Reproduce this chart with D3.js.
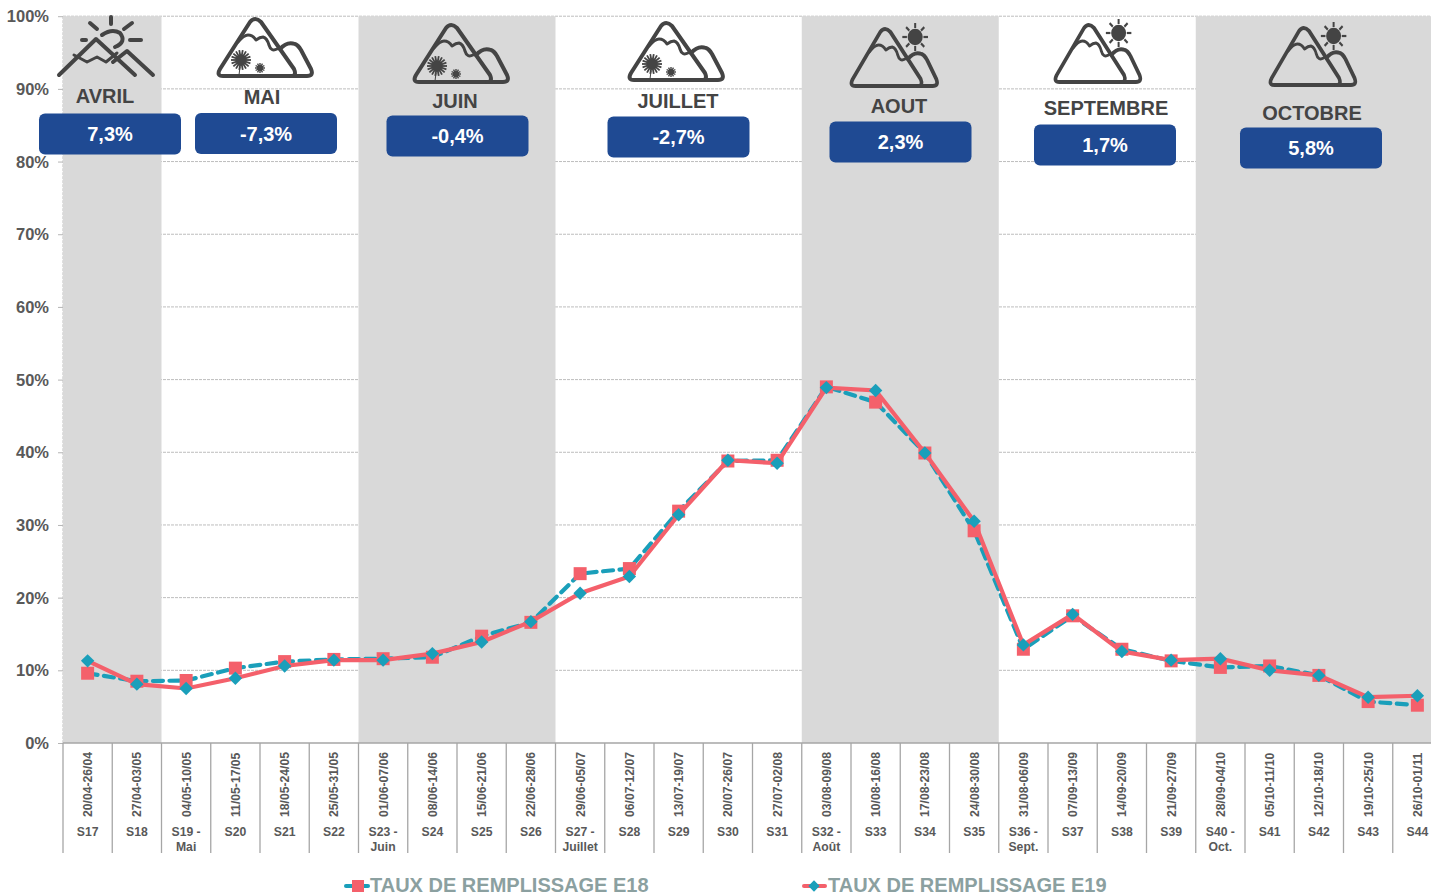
<!DOCTYPE html>
<html>
<head>
<meta charset="utf-8">
<script src="https://cdn.jsdelivr.net/npm/d3@7"></script>
<style>
    body { margin: 0; background: #fff; overflow: hidden; }
    text { font-family: "Liberation Sans", Arial, sans-serif; font-weight: bold; }
</style>
</head>
<body>
<div id="chart"></div>
<script>
const weeks = ["S17","S18","S19 -|Mai","S20","S21","S22","S23 -|Juin","S24","S25","S26","S27 -|Juillet","S28","S29","S30","S31","S32 -|Août","S33","S34","S35","S36 -|Sept.","S37","S38","S39","S40 -|Oct.","S41","S42","S43","S44"];
const dates = ["20/04-26/04","27/04-03/05","04/05-10/05","11/05-17/05","18/05-24/05","25/05-31/05","01/06-07/06","08/06-14/06","15/06-21/06","22/06-28/06","29/06-05/07","06/07-12/07","13/07-19/07","20/07-26/07","27/07-02/08","03/08-09/08","10/08-16/08","17/08-23/08","24/08-30/08","31/08-06/09","07/09-13/09","14/09-20/09","21/09-27/09","28/09-04/10","05/10-11/10","12/10-18/10","19/10-25/10","26/10-01/11"];
const e18 = [9.6,8.5,8.6,10.3,11.2,11.5,11.6,11.8,14.7,16.6,23.3,24.0,31.9,38.8,38.9,49.0,46.9,39.9,29.2,12.9,17.5,12.9,11.3,10.4,10.6,9.3,5.7,5.2];
const e19 = [11.3,8.1,7.5,8.9,10.6,11.4,11.4,12.3,13.9,16.7,20.6,22.9,31.4,38.9,38.5,48.9,48.5,39.9,30.5,13.5,17.7,12.6,11.4,11.6,10.0,9.3,6.3,6.5];
const months = ["AVRIL","MAI","JUIN","JUILLET","AOUT","SEPTEMBRE","OCTOBRE"];
const monthValues = ["7,3%","-7,3%","-0,4%","-2,7%","2,3%","1,7%","5,8%"];
// index of first and last week of each shaded month
const shaded = [[0,1],[6,9],[15,18],[23,27]];
const yTicks = [0,10,20,30,40,50,60,70,80,90,100];

// placement of the month blocks, they float above the plot at uneven heights
const labelX = [105,262,455,678,899,1106,1312];
const labelY = [103,104,108,108,113,115,120];
const boxX = [39,195,386.5,607.5,829.5,1034,1240];
const boxY = [113.5,113,115.5,116.5,121.5,124.5,127.5];
const iconX = [0,217,413,628,850,1054,1269];
const iconY = [0,17,23,21,27,23,26];
const iconScale = [1,1,1,1,0.918,0.91,0.91];
const iconKind = ["", "flowers","flowers","flowers","sun","sun","sun"];

const width = 1431, height = 895;
const margin = {left: 63, right: 1442, top: 16.2, bottom: 743};
const dark = "#444444", axisText = "#595959", axisGrey = "#a6a6a6";
const red = "#f4606b", teal = "#1a9fba";

const svg = d3.select("#chart").append("svg")
    .attr("width", width)
    .attr("height", height);

const x = d3.scaleBand().domain(weeks).range([margin.left, margin.right]);
const y = d3.scaleLinear().domain([0, 100]).range([margin.bottom, margin.top]);

// grid + y labels
const yAxis = svg.append("g")
    .attr("transform", `translate(${margin.left},0)`)
    .call(d3.axisLeft(y).tickValues(yTicks).tickFormat(d => d + "%").tickSize(5).tickPadding(9));
yAxis.select(".domain").remove();
yAxis.selectAll("line").attr("stroke", "#b5b5b5");
yAxis.selectAll("text").attr("font-size", 16.5).attr("fill", axisText).attr("dy", "0.34em");

svg.append("g").selectAll("line")
    .data(yTicks.slice(1))
    .enter().append("line")
    .attr("x1", margin.left).attr("x2", width)
    .attr("y1", d => y(d)).attr("y2", d => y(d))
    .attr("stroke", "#bdbdbd")
    .attr("stroke-dasharray", "3 1");

svg.append("line")
    .attr("x1", margin.left).attr("x2", margin.left)
    .attr("y1", margin.top).attr("y2", margin.bottom)
    .attr("stroke", "#bdbdbd")
    .attr("stroke-dasharray", "3 1");

// month shading
svg.append("g").selectAll("rect")
    .data(shaded)
    .enter().append("rect")
    .attr("x", d => x(weeks[d[0]]))
    .attr("y", margin.top)
    .attr("width", d => x(weeks[d[1]]) + x.bandwidth() - x(weeks[d[0]]))
    .attr("height", margin.bottom - margin.top)
    .attr("fill", "#d9d9d9");

// x axis, ticks sit on the band edges
const xAxis = svg.append("g");
xAxis.append("line")
    .attr("x1", margin.left).attr("x2", width)
    .attr("y1", margin.bottom).attr("y2", margin.bottom)
    .attr("stroke", axisGrey).attr("stroke-width", 1.5);
xAxis.selectAll(".tick-edge")
    .data(weeks)
    .enter().append("line")
    .attr("class", "tick-edge")
    .attr("x1", d => x(d)).attr("x2", d => x(d))
    .attr("y1", margin.bottom).attr("y2", 853)
    .attr("stroke", axisGrey).attr("stroke-width", 1.3);
xAxis.selectAll(".date-label")
    .data(dates)
    .enter().append("text")
    .attr("class", "date-label")
    .attr("transform", (d, i) => `translate(${x(weeks[i]) + x.bandwidth() / 2 + 4.5},817) rotate(-90)`)
    .attr("font-size", 12.2)
    .attr("fill", axisText)
    .text(d => d);
xAxis.selectAll(".week-label")
    .data(weeks)
    .enter().append("text")
    .attr("class", "week-label")
    .attr("text-anchor", "middle")
    .attr("font-size", 12.2)
    .attr("fill", axisText)
    .each(function(d) {
        let cx = x(d) + x.bandwidth() / 2;
        d.split("|").forEach((part, i) => {
            d3.select(this).append("tspan")
                .attr("x", cx)
                .attr("y", 836 + i * 15)
                .text(part);
        });
    });

// series
let line = d3.line()
    .x((d, i) => x(weeks[i]) + x.bandwidth() / 2)
    .y(d => y(d));

svg.append("path")
    .attr("d", line(e18))
    .attr("fill", "none")
    .attr("stroke", teal)
    .attr("stroke-width", 4.2)
    .attr("stroke-dasharray", "10 6.5")
    .attr("stroke-linecap", "round");

svg.append("g").selectAll("path")
    .data(e18)
    .enter().append("path")
    .attr("d", d3.symbol().type(d3.symbolSquare).size(169))
    .attr("transform", (d, i) => `translate(${x(weeks[i]) + x.bandwidth() / 2},${y(d)})`)
    .attr("fill", red);

svg.append("path")
    .attr("d", line(e19))
    .attr("fill", "none")
    .attr("stroke", red)
    .attr("stroke-width", 4.2);

svg.append("g").selectAll("path")
    .data(e19)
    .enter().append("path")
    .attr("d", d3.symbol().type(d3.symbolSquare).size(90))
    .attr("transform", (d, i) => `translate(${x(weeks[i]) + x.bandwidth() / 2},${y(d)}) rotate(45)`)
    .attr("fill", teal);

// month icons
function rays(g, cx, cy, r0, r1, n, w) {
    d3.range(n).forEach(i => {
        let a = i * 2 * Math.PI / n;
        g.append("line")
            .attr("x1", cx + r0 * Math.cos(a)).attr("y1", cy + r0 * Math.sin(a))
            .attr("x2", cx + r1 * Math.cos(a)).attr("y2", cy + r1 * Math.sin(a))
            .attr("stroke", dark).attr("stroke-width", w);
    });
}

function drawMountain(i) {
    let g = svg.append("g")
        .attr("transform", `translate(${iconX[i]},${iconY[i]}) scale(${iconScale[i]},1)`);
    let outline = ["M6 59 Q-1 59 3 52 L33 5 Q38 -1 44 5 L77 52 Q80 59 74 59 Z",
        "M63 32 Q70 24 78 27 Q81 28 84 33 L94 52 Q97 59 90 59 L74 59",
        "M21 25 Q27 18 31 18 Q36 18 39 23 Q43 20 46 20 Q50 21 52 28 Q54 35 60 32"];
    outline.forEach((d, k) => {
        g.append("path")
            .attr("d", d)
            .attr("fill", "none")
            .attr("stroke", dark)
            .attr("stroke-width", k == 2 ? 3 : 4)
            .attr("stroke-linecap", "round")
            .attr("stroke-linejoin", "round");
    });
    if (iconKind[i] == "flowers") {
        rays(g, 24, 43, 0, 10, 18, 1.8);
        g.append("circle").attr("cx", 24).attr("cy", 43).attr("r", 5.5).attr("fill", dark);
        g.append("line").attr("x1", 23).attr("y1", 50).attr("x2", 22).attr("y2", 58).attr("stroke", dark);
        rays(g, 43, 51, 0, 5, 12, 1.4);
        g.append("circle").attr("cx", 43).attr("cy", 51).attr("r", 3).attr("fill", dark);
    } else {
        rays(g, 71, 10, 9, 14, 8, 2.2);
        g.append("circle").attr("cx", 71).attr("cy", 10).attr("r", 8.2).attr("fill", dark);
    }
}
d3.range(1, 7).forEach(drawMountain);

// april has its own drawing (sun rising behind two peaks)
let april = ["M59 75 L96 39 L135 75", "M113 62 L127 51 L153 75",
    "M74 55 L87 62 L97 57 L106 62 L117 53",
    "M102 35 Q112 28 120 33 Q127 42 115 47",
    "M111 17 L111 24", "M90 23 L97 29", "M132 23 L124 29", "M82 40 L86 40", "M130 40 L141 40"];
svg.append("g").selectAll("path")
    .data(april)
    .enter().append("path")
    .attr("d", d => d)
    .attr("fill", "none")
    .attr("stroke", dark)
    .attr("stroke-width", (d, i) => i == 2 ? 3 : 4)
    .attr("stroke-linecap", "round")
    .attr("stroke-linejoin", "round");

// month names and variation boxes
svg.append("g").selectAll("text")
    .data(months)
    .enter().append("text")
    .attr("x", (d, i) => labelX[i])
    .attr("y", (d, i) => labelY[i])
    .attr("text-anchor", "middle")
    .attr("font-size", 20)
    .attr("fill", dark)
    .text(d => d);

svg.append("g").selectAll("rect")
    .data(monthValues)
    .enter().append("rect")
    .attr("x", (d, i) => boxX[i])
    .attr("y", (d, i) => boxY[i])
    .attr("width", 142)
    .attr("height", 41)
    .attr("rx", 6)
    .attr("fill", "#1f4a93");

svg.append("g").selectAll("text")
    .data(monthValues)
    .enter().append("text")
    .attr("x", (d, i) => boxX[i] + 71)
    .attr("y", (d, i) => boxY[i] + 27.5)
    .attr("text-anchor", "middle")
    .attr("font-size", 20)
    .attr("fill", "#fff")
    .text(d => d);

// legend
let legendG = svg.append("g");
legendG.append("line").attr("x1", 346).attr("x2", 368).attr("y1", 886).attr("y2", 886)
    .attr("stroke", teal).attr("stroke-width", 4).attr("stroke-linecap", "round");
legendG.append("path").attr("d", d3.symbol().type(d3.symbolSquare).size(144))
    .attr("transform", "translate(358,886)").attr("fill", red);
legendG.append("text").attr("x", 370).attr("y", 892).attr("font-size", 20).attr("fill", "#8ba0a0")
    .text("TAUX DE REMPLISSAGE E18");

legendG.append("line").attr("x1", 804).attr("x2", 825).attr("y1", 886).attr("y2", 886)
    .attr("stroke", red).attr("stroke-width", 4).attr("stroke-linecap", "round");
legendG.append("path").attr("d", d3.symbol().type(d3.symbolSquare).size(64))
    .attr("transform", "translate(814,886) rotate(45)").attr("fill", teal);
legendG.append("text").attr("x", 828).attr("y", 892).attr("font-size", 20).attr("fill", "#8ba0a0")
    .text("TAUX DE REMPLISSAGE E19");
</script>
</body>
</html>
